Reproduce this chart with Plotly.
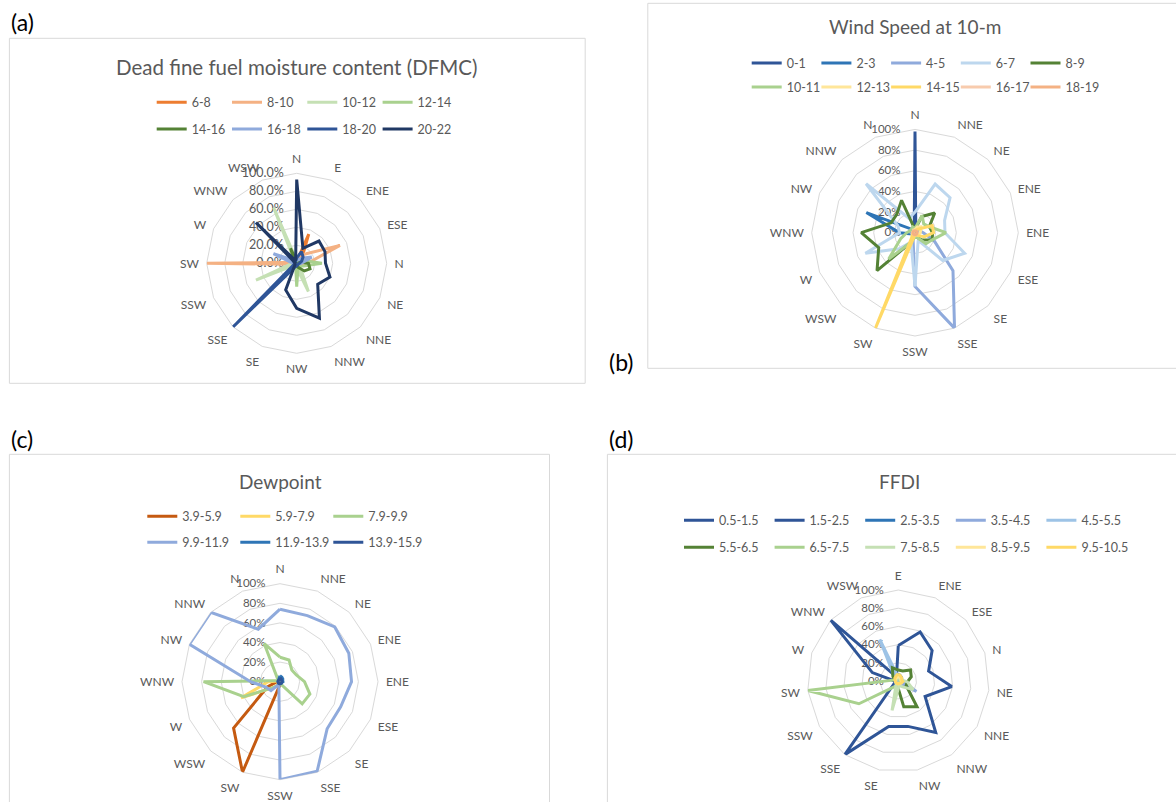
import plotly.graph_objects as go

W, H = 1176, 802
FONT = "Lato"
GRAY = "#595959"
GRID = "#d9d9d9"

# ---------------- (a) DFMC ----------------
a_categories = ["N", "E", "ENE", "ESE", "N", "NE", "NNE", "NNW", "NW", "SE", "SSE", "SSW", "SW", "W", "WNW", "WSW"]
a_names = ["6-8", "8-10", "10-12", "12-14", "14-16", "16-18", "18-20", "20-22"]
a_colors = ["#ED7D31", "#F4B183", "#C5E0B4", "#A9D18E", "#548235", "#8FAADC", "#2F5597", "#203864"]
a_6_8 = [2, 35, 8, 5, 2, 1, 1, 1, 1, 1, 1, 1, 3, 1, 1, 1]
a_8_10 = [3, 10, 15, 52, 12, 3, 2, 2, 2, 2, 2, 3, 100, 3, 2, 2]
a_10_12 = [3, 2, 2, 2, 2, 3, 5, 34, 5, 3, 3, 49, 5, 3, 3, 67]
a_12_14 = [2, 2, 3, 8, 28, 8, 4, 4, 26, 3, 2, 2, 2, 2, 2, 4]
a_14_16 = [2, 2, 2, 4, 13, 16, 12, 5, 3, 2, 1, 1, 1, 2, 3, 18]
a_16_18 = [3, 4, 8, 18, 5, 2, 2, 2, 2, 2, 2, 3, 4, 28, 5, 3]
a_18_20 = [6, 14, 10, 6, 3, 2, 2, 2, 3, 4, 100, 3, 2, 3, 2, 3]
a_20_22 = [93, 18, 35, 34, 32, 40, 33, 66, 50, 32, 3, 2, 2, 2, 64, 3]
a_values = [a_6_8, a_8_10, a_10_12, a_12_14, a_14_16, a_16_18, a_18_20, a_20_22]
a_ticks = ["0.0%", "20.0%", "40.0%", "60.0%", "80.0%", "100.0%"]

# ---------------- (b) Wind speed ----------------
b_categories = ["N", "NNE", "NE", "ENE", "ENE", "ESE", "SE", "SSE", "SSW", "SW", "WSW", "W", "WNW", "NW", "NNW", "N"]
b_names = ["0-1", "2-3", "4-5", "6-7", "8-9", "10-11", "12-13", "14-15", "16-17", "18-19"]
b_colors = ["#2F5597", "#2E75B6", "#8FAADC", "#BDD7EE", "#548235", "#A9D18E", "#FFE699", "#FFD966", "#F8CBAD", "#F4B183"]
b_0_1 = [98, 2, 1, 1, 1, 1, 1, 1, 1, 1, 1, 1, 2, 3, 2, 2]
b_2_3 = [3, 2, 2, 2, 2, 2, 2, 2, 2, 2, 3, 3, 15, 51, 5, 4]
b_4_5 = [2, 3, 3, 5, 8, 20, 52, 100, 52, 5, 3, 2, 4, 6, 3, 2]
b_6_7 = [20, 51, 48, 31, 29, 52, 38, 8, 52, 10, 22, 52, 15, 18, 67, 15]
b_8_9 = [3, 17, 27, 15, 17, 18, 10, 5, 3, 10, 52, 38, 52, 25, 25, 34]
b_10_11 = [4, 18, 12, 15, 30, 18, 15, 5, 4, 10, 36, 15, 8, 5, 5, 6]
b_12_13 = [3, 6, 8, 6, 5, 4, 3, 2, 2, 3, 4, 3, 2, 2, 2, 3]
b_14_15 = [2, 3, 5, 18, 18, 10, 4, 2, 2, 100, 3, 2, 2, 2, 2, 2]
b_16_17 = [2, 2, 2, 2, 2, 2, 2, 2, 2, 2, 2, 2, 2, 2, 2, 2]
b_18_19 = [2, 2, 2, 2, 2, 2, 2, 2, 2, 2, 2, 2, 2, 2, 2, 2]
b_values = [b_0_1, b_2_3, b_4_5, b_6_7, b_8_9, b_10_11, b_12_13, b_14_15, b_16_17, b_18_19]
b_ticks = ["0%", "20%", "40%", "60%", "80%", "100%"]

# ---------------- (c) Dewpoint ----------------
c_categories = ["N", "NNE", "NE", "ENE", "ENE", "ESE", "SE", "SSE", "SSW", "SW", "WSW", "W", "WNW", "NW", "NNW", "N"]
c_names = ["3.9-5.9", "5.9-7.9", "7.9-9.9", "9.9-11.9", "11.9-13.9", "13.9-15.9"]
c_colors = ["#C55A11", "#FFD966", "#A9D18E", "#8FAADC", "#2E75B6", "#2F5597"]
c_3_9 = [1, 1, 1, 1, 1, 1, 1, 1, 3, 100, 67, 14, 3, 1, 1, 1]
c_5_9 = [1, 1, 1, 1, 1, 1, 1, 1, 1, 2, 8, 43, 12, 2, 1, 1]
c_7_9 = [25, 24, 17, 18, 25, 33, 32, 3, 2, 3, 8, 40, 78, 3, 3, 42]
c_9_9 = [74, 73, 79, 76, 73, 67, 68, 99, 100, 3, 13, 15, 30, 100, 100, 58]
c_11_9 = [6, 5, 4, 3, 3, 2, 2, 2, 2, 2, 2, 2, 2, 2, 2, 3]
c_13_9 = [4, 3, 2, 2, 2, 2, 2, 2, 2, 2, 2, 2, 2, 2, 2, 2]
c_values = [c_3_9, c_5_9, c_7_9, c_9_9, c_11_9, c_13_9]
c_ticks = ["0%", "20%", "40%", "60%", "80%", "100%"]

# ---------------- (d) FFDI ----------------
d_categories = ["E", "ENE", "ESE", "N", "NE", "NNE", "NNW", "NW", "SE", "SSE", "SSW", "SW", "W", "WNW", "WSW"]
d_names = ["0.5-1.5", "1.5-2.5", "2.5-3.5", "3.5-4.5", "4.5-5.5", "5.5-6.5", "6.5-7.5", "7.5-8.5", "8.5-9.5", "9.5-10.5"]
d_colors = ["#2F5597", "#2F5597", "#2E75B6", "#8FAADC", "#9DC3E6", "#548235", "#A9D18E", "#C5E0B4", "#FFE699", "#FFD966"]
d_0_5 = [5, 4, 4, 3, 6, 5, 4, 3, 3, 3, 3, 3, 4, 5, 4]
d_1_5 = [39, 59, 50, 35, 59, 34, 70, 51, 51, 100, 5, 3, 30, 100, 5]
d_2_5 = [8, 6, 5, 4, 6, 5, 3, 3, 3, 3, 3, 3, 3, 4, 5]
d_3_5 = [3, 3, 3, 3, 5, 23, 4, 3, 2, 2, 2, 2, 2, 2, 3]
d_4_5 = [4, 3, 3, 2, 2, 2, 2, 2, 2, 2, 2, 2, 3, 5, 50]
d_5_5 = [12, 12, 18, 15, 10, 10, 35, 29, 5, 3, 3, 3, 5, 8, 16]
d_6_5 = [3, 2, 2, 2, 2, 2, 3, 4, 5, 8, 50, 100, 4, 3, 3]
d_7_5 = [4, 3, 3, 4, 10, 19, 8, 5, 33, 4, 3, 3, 3, 3, 4]
d_8_5 = [5, 4, 4, 3, 4, 4, 3, 3, 3, 3, 3, 3, 3, 4, 4]
d_9_5 = [8, 6, 5, 4, 5, 4, 3, 3, 3, 3, 3, 3, 4, 5, 6]
d_values = [d_0_5, d_1_5, d_2_5, d_3_5, d_4_5, d_5_5, d_6_5, d_7_5, d_8_5, d_9_5]
d_ticks = ["0%", "20%", "40%", "60%", "80%", "100%"]

radial_tickvals = [0, 20, 40, 60, 80, 100]


def uniq(labels):
    seen = {}
    out = []
    for lab in labels:
        n = seen.get(lab, 0)
        out.append(lab + "\u200b" * n)
        seen[lab] = n + 1
    return out


def fx(x):
    return x / W


def fy(y):
    return 1 - y / H


LEG_SYMBOL = 42  # pixels taken by the legend line sample + gap

panels = [
    dict(key="polar", cats=a_categories, names=a_names, colors=a_colors, values=a_values, ticks=a_ticks,
         cx=296.7, cy=263.3, r=90, title="Dead fine fuel moisture content (DFMC)", tx=297, ty=67, tfs=20.5,
         leg_x=156.7, leg_y=[102.7, 129.3], per_row=4, entry=72.3,
         box=(9.4, 38.3, 585.2, 383.3), letter="(a)", lx=9, ly=21.7, rfs=12.5, rpad=8),
    dict(key="polar2", cats=b_categories, names=b_names, colors=b_colors, values=b_values, ticks=b_ticks,
         cx=915, cy=232.7, r=103.3, title="Wind Speed at 10-m", tx=915, ty=26.7, tfs=19,
         leg_x=751.7, leg_y=[63.3, 87.3], per_row=5, entry=66.7,
         box=(647.8, 3.3, 1185, 368.3), letter="(b)", lx=607, ly=361.7, rfs=11.5, rpad=10),
    dict(key="polar3", cats=c_categories, names=c_names, colors=c_colors, values=c_values, ticks=c_ticks,
         cx=280, cy=681.7, r=98, title="Dewpoint", tx=280, ty=481, tfs=19,
         leg_x=147.3, leg_y=[516.7, 542.7], per_row=3, entry=90,
         box=(9.4, 454.3, 549.5, 812), letter="(c)", lx=9, ly=439.3, rfs=11.5, rpad=10),
    dict(key="polar4", cats=d_categories, names=d_names, colors=d_colors, values=d_values, ticks=d_ticks,
         cx=898.3, cy=681, r=91, title="FFDI", tx=899, ty=481.7, tfs=19,
         leg_x=684, leg_y=[520.7, 547.7], per_row=5, entry=87.6,
         box=(607.4, 454.3, 1185, 812), letter="(d)", lx=607, ly=439.3, rfs=11.5, rpad=10),
]

fig = go.Figure()
layout = dict(width=W, height=H, margin=dict(l=0, r=0, t=0, b=0, autoexpand=False),
              paper_bgcolor="white", plot_bgcolor="white",
              font=dict(family=FONT, color=GRAY), showlegend=True)
annotations = []
shapes = []
leg_count = 0

for p in panels:
    cats = uniq(p["cats"])
    leg_ids = []
    for row_y in p["leg_y"]:
        leg_count += 1
        lid = "legend" if leg_count == 1 else f"legend{leg_count}"
        leg_ids.append(lid)
        layout[lid] = dict(orientation="h", x=fx(p["leg_x"] - 5), y=fy(row_y), xanchor="left", yanchor="middle",
                           entrywidth=p["entry"] - LEG_SYMBOL, entrywidthmode="pixels", bgcolor="rgba(0,0,0,0)",
                           font=dict(family=FONT, size=12.5, color=GRAY), itemclick=False, itemdoubleclick=False,
                           borderwidth=0, tracegroupgap=0)
    for i, (name, col, vals) in enumerate(zip(p["names"], p["colors"], p["values"])):
        fig.add_trace(go.Scatterpolar(
            r=vals + [vals[0]], theta=cats + [cats[0]], mode="lines", name=name,
            line=dict(color=col, width=3), subplot=p["key"], legend=leg_ids[i // p["per_row"]],
            hoverinfo="skip"))
    # blank spacer entries so the last legend label of each row is not clipped
    for lid in leg_ids:
        fig.add_trace(go.Scatterpolar(r=[0], theta=[cats[0]], mode="lines", name="\u00a0",
                                      line=dict(color="rgba(0,0,0,0)", width=1), subplot=p["key"],
                                      legend=lid, hoverinfo="skip"))
    cx, cy, r = p["cx"], p["cy"], p["r"]
    layout[p["key"]] = dict(
        domain=dict(x=[fx(cx - r), fx(cx + r)], y=[fy(cy + r), fy(cy - r)]),
        gridshape="linear", bgcolor="rgba(0,0,0,0)",
        angularaxis=dict(type="category", categoryarray=cats, rotation=90, direction="clockwise",
                         showgrid=False, showline=True, linecolor=GRID, linewidth=1,
                         ticks="outside", ticklen=5, tickcolor="rgba(0,0,0,0)",
                         tickfont=dict(family=FONT, size=12, color=GRAY), layer="below traces"),
        radialaxis=dict(range=[0, 100], tickvals=radial_tickvals, ticktext=p["ticks"], angle=90, tickangle=90,
                        side="counterclockwise", showline=False, showgrid=True, gridcolor=GRID, gridwidth=1,
                        ticks="outside", ticklen=p["rpad"], tickcolor="rgba(0,0,0,0)",
                        tickfont=dict(family=FONT, size=p["rfs"], color=GRAY), layer="below traces"),
    )
    annotations.append(dict(text=p["title"], x=fx(p["tx"]), y=fy(p["ty"]), xref="paper", yref="paper",
                            xanchor="center", yanchor="middle", showarrow=False,
                            font=dict(family=FONT, size=p["tfs"], color=GRAY)))
    annotations.append(dict(text=p["letter"], x=fx(p["lx"]), y=fy(p["ly"]), xref="paper", yref="paper",
                            xanchor="left", yanchor="middle", showarrow=False,
                            font=dict(family=FONT, size=23, color="black")))
    x0, y0, x1, y1 = p["box"]
    shapes.append(dict(type="rect", xref="paper", yref="paper", x0=fx(x0), x1=fx(x1), y0=fy(y1), y1=fy(y0),
                       line=dict(color=GRID, width=1), fillcolor="rgba(0,0,0,0)", layer="below"))

layout["annotations"] = annotations
layout["shapes"] = shapes
fig.update_layout(**layout)
fig.write_html("out.html", config={"displayModeBar": False},
               post_script="document.body.style.margin='0px';document.body.style.overflow='hidden';")
